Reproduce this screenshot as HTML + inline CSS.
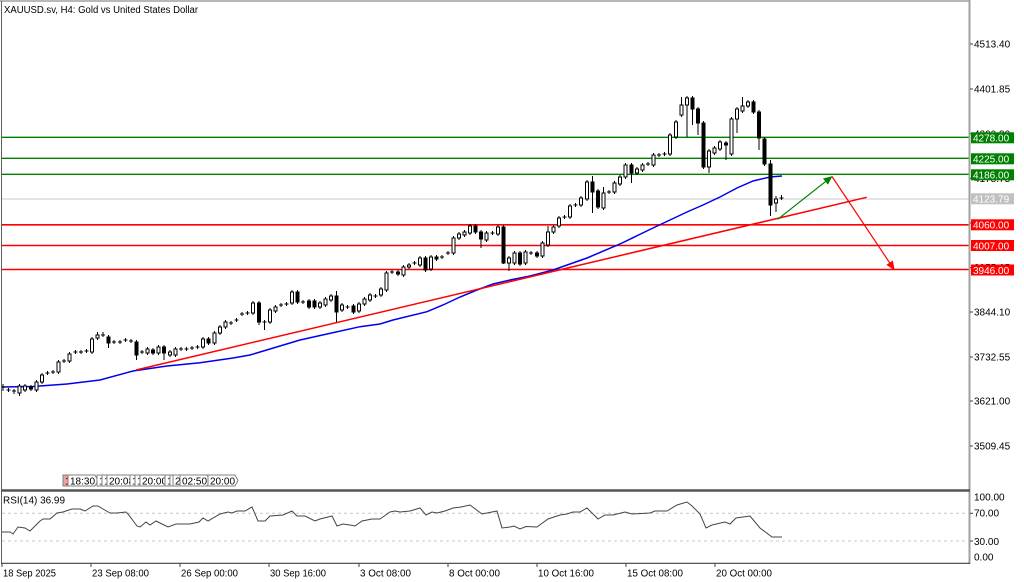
<!DOCTYPE html>
<html><head><meta charset="utf-8"><style>
html,body{margin:0;padding:0;background:#fff;}
svg{display:block;}
text{font-family:"Liberation Sans",sans-serif;font-size:10px;fill:#000;}
.w{fill:#fff;}
</style></head><body>
<svg id="c" width="1024" height="582" viewBox="0 0 1024 582" xmlns="http://www.w3.org/2000/svg">
<defs>
<marker id="ag" markerWidth="9" markerHeight="8" refX="8" refY="4" orient="auto" markerUnits="userSpaceOnUse"><path d="M0,0 L9,4 L0,8 z" fill="#008000"/></marker>
<marker id="ar" markerWidth="9" markerHeight="8" refX="8" refY="4" orient="auto" markerUnits="userSpaceOnUse"><path d="M0,0 L9,4 L0,8 z" fill="#ff0000"/></marker>
</defs>
<rect x="0" y="0" width="1024" height="582" fill="#fff"/>
<!-- title -->
<text x="4" y="13" textLength="194" lengthAdjust="spacingAndGlyphs">XAUUSD.sv, H4:  Gold vs United States Dollar</text>

<!-- horizontal levels -->
<line x1="2" y1="137.3" x2="969" y2="137.3" stroke="#008000" stroke-width="1.4"/>
<line x1="2" y1="158.3" x2="969" y2="158.3" stroke="#008000" stroke-width="1.4"/>
<line x1="2" y1="174.3" x2="969" y2="174.3" stroke="#008000" stroke-width="1.4"/>
<line x1="2" y1="199" x2="969" y2="199" stroke="#c8c8c8" stroke-width="1"/>
<line x1="2" y1="224.8" x2="969" y2="224.8" stroke="#ff0000" stroke-width="1.6"/>
<line x1="2" y1="245.5" x2="969" y2="245.5" stroke="#ff0000" stroke-width="1.6"/>
<line x1="2" y1="269.5" x2="969" y2="269.5" stroke="#ff0000" stroke-width="1.6"/>

<!-- MA -->
<polyline fill="none" stroke="#0000ee" stroke-width="1.5" points="2,387 33,386.5 67,384 100,380 133,371 167,366 200,362.7 233,358 250,355 270,349 300,340 327,334 360,326.7 380,324 393,320 427,311.7 443,305 460,297 477,290 493,284 510,280 530,276 553,270 587,258 620,244 653,228 670,220 687,212 703,205 720,197 737,188 753,181 770,177 782,176"/>
<!-- trend line -->
<line x1="136" y1="370" x2="866.7" y2="197.3" stroke="#ff0000" stroke-width="1.5"/>
<!-- arrows -->
<line x1="777.7" y1="219.3" x2="831.7" y2="176.7" stroke="#008000" stroke-width="1.2" marker-end="url(#ag)"/>
<line x1="832" y1="176.5" x2="894" y2="269.3" stroke="#ff0000" stroke-width="1.2" marker-end="url(#ar)"/>

<g id="candles"></g>

<!-- time labels boxes -->
<g id="tl" stroke="#808080" stroke-width="1"></g>

<!-- frame -->
<line x1="0" y1="1" x2="970" y2="1" stroke="#a0a0a0" stroke-width="1.5"/>
<line x1="969.5" y1="0" x2="969.5" y2="564" stroke="#a0a0a0" stroke-width="2"/>
<line x1="1.5" y1="1" x2="1.5" y2="564" stroke="#606060" stroke-width="1"/>
<line x1="1" y1="490.5" x2="970" y2="490.5" stroke="#555" stroke-width="2.5"/>
<line x1="1" y1="563.3" x2="970" y2="563.3" stroke="#404040" stroke-width="1.2"/>

<!-- RSI -->
<line x1="2" y1="513.3" x2="969" y2="513.3" stroke="#c8c8c8" stroke-width="1" stroke-dasharray="3,3"/>
<line x1="2" y1="541" x2="969" y2="541" stroke="#c8c8c8" stroke-width="1" stroke-dasharray="3,3"/>
<polyline fill="none" stroke="#444" stroke-width="1" points="2,532 10,532 13,534 18,527 25,528 30,531 40,521 43,519 50,519 57,513 63,512 72,509 80,509 85,511 93,506 98,506 103,509 110,513 117,513 126,512 128,514 137,526 140,527 146,522 150,525 156,521 162,524 168,527 176,524 190,524 199,522 203,518 208,521 220,514 228,512 232,513 237,511 245,511 252,507 258,521 265,521 270,516 283,515 292,511 297,516 305,516 315,521 320,519 332,516 337,526 343,524 350,525 355,526 362,521 372,519 380,519 390,512 395,511 400,512 410,511 420,508 426,515 432,512 437,513 445,511 453,508 461,507 470,505 482,514 487,513 497,511 502,528 510,527 514,526 520,529 526,526.5 537,527 548,519 560,515 567,514 573,512 580,512 587,508 598,519 605,515 613,515 625,512 632,514 650,513 655,511 667,511 677,505 687,502 692,506 700,514 706,528 712,525 725,522 730,524 736,518 750,516 760,528 772,537 782,537"/>
<text x="3" y="503.5" textLength="62" lengthAdjust="spacingAndGlyphs">RSI(14) 36.99</text>

<!-- right axis ticks -->
<g stroke="#404040" stroke-width="1">
<line x1="970" y1="44" x2="973" y2="44"/>
<line x1="970" y1="89" x2="973" y2="89"/>
<line x1="970" y1="133.7" x2="973" y2="133.7"/>
<line x1="970" y1="178.3" x2="973" y2="178.3"/>
<line x1="970" y1="223" x2="973" y2="223"/>
<line x1="970" y1="267.6" x2="973" y2="267.6"/>
<line x1="970" y1="312" x2="973" y2="312"/>
<line x1="970" y1="357" x2="973" y2="357"/>
<line x1="970" y1="401" x2="973" y2="401"/>
<line x1="970" y1="446" x2="973" y2="446"/>
<line x1="970" y1="513.3" x2="973" y2="513.3"/>
<line x1="970" y1="541" x2="973" y2="541"/>
</g>
<text x="974" y="47.6">4513.40</text>
<text x="974" y="92.6">4401.85</text>
<text x="974" y="137.3">4290.30</text>
<text x="974" y="181.9">4178.75</text>
<text x="974" y="226.6">4067.20</text>
<text x="974" y="271.2">3955.65</text>
<text x="974" y="315.6">3844.10</text>
<text x="974" y="360.6">3732.55</text>
<text x="974" y="404.6">3621.00</text>
<text x="974" y="449.6">3509.45</text>
<text x="974" y="500.7">100.00</text>
<text x="974" y="516.7">70.00</text>
<text x="974" y="545">30.00</text>
<text x="974" y="560.7">0.00</text>

<!-- price boxes -->
<rect x="971" y="132.3" width="43" height="11" fill="#008000"/>
<text class="w" x="973" y="141.6">4278.00</text>
<rect x="971" y="153.3" width="43" height="11" fill="#008000"/>
<text class="w" x="973" y="162.6">4225.00</text>
<rect x="971" y="169.3" width="43" height="11" fill="#008000"/>
<text class="w" x="973" y="178.6">4186.00</text>
<rect x="971" y="193.3" width="43" height="11" fill="#c0c0c0"/>
<text class="w" x="973" y="202.6">4123.79</text>
<rect x="971" y="219.3" width="43" height="11" fill="#ff0000"/>
<text class="w" x="973" y="228.6">4060.00</text>
<rect x="971" y="240" width="43" height="11" fill="#ff0000"/>
<text class="w" x="973" y="249.3">4007.00</text>
<rect x="971" y="264.5" width="43" height="11" fill="#ff0000"/>
<text class="w" x="973" y="273.8">3946.00</text>

<!-- date axis -->
<g stroke="#404040" stroke-width="1">
<line x1="2" y1="563" x2="2" y2="567"/>
<line x1="91" y1="563" x2="91" y2="567"/>
<line x1="180" y1="563" x2="180" y2="567"/>
<line x1="269" y1="563" x2="269" y2="567"/>
<line x1="359" y1="563" x2="359" y2="567"/>
<line x1="448" y1="563" x2="448" y2="567"/>
<line x1="537" y1="563" x2="537" y2="567"/>
<line x1="626" y1="563" x2="626" y2="567"/>
<line x1="715" y1="563" x2="715" y2="567"/>
</g>
<text x="3" y="576.5" textLength="53" lengthAdjust="spacingAndGlyphs">18 Sep 2025</text>
<text x="92" y="576.5" textLength="57" lengthAdjust="spacingAndGlyphs">23 Sep 08:00</text>
<text x="181" y="576.5" textLength="57" lengthAdjust="spacingAndGlyphs">26 Sep 00:00</text>
<text x="270" y="576.5" textLength="56" lengthAdjust="spacingAndGlyphs">30 Sep 16:00</text>
<text x="360" y="576.5" textLength="51" lengthAdjust="spacingAndGlyphs">3 Oct 08:00</text>
<text x="449" y="576.5" textLength="51" lengthAdjust="spacingAndGlyphs">8 Oct 00:00</text>
<text x="538" y="576.5" textLength="56" lengthAdjust="spacingAndGlyphs">10 Oct 16:00</text>
<text x="627" y="576.5" textLength="56" lengthAdjust="spacingAndGlyphs">15 Oct 08:00</text>
<text x="716" y="576.5" textLength="56" lengthAdjust="spacingAndGlyphs">20 Oct 00:00</text>
</svg>
<script>
(function(){
var NS="http://www.w3.org/2000/svg";
var D=[
[387,387,2,384,391],[390,390,2,388,392],[391,391,2,389,394],[386,393,0,384,396],[386,390,0],[387,389,1],[382,390,0],[375,382,0],[373,373,2],[372,372,2],
[362,372,0],[361,361,2],[354,361,0],[352,352,2],[352,352,2],[351,351,2],[339,352,0],[335,338,0,332],[335,335,2,332],[337,343,1,335,348],
[342,342,2],[342,342,2],[340,340,2],[341,341,2],[342,355,1,340,360],[352,352,2],[349,353,0],[350,353,1],[347,353,0],[347,353,1,345,360],
[352,355,0],[349,355,0],[349,349,2],[349,349,2],[348,348,2],[347,347,2],[339,347,0],[339,343,1],[333,343,0],[327,333,0],
[322,327,0],[323,323,2],[320,320,2],[314,314,2],[313,313,2],[303,313,0],[303,322,1,301,325],[322,322,2,320,330],[310,322,0],[307,311,0],
[305,305,2],[304,304,2],[292,303,0],[292,302,1],[302,302,2],[301,307,1],[301,307,1],[303,307,0],[299,305,0],[296,300,0],
[296,312,1,291,322],[305,310,0],[307,307,2],[306,312,1],[304,311,0],[299,304,0],[295,300,0],[296,296,2],[289,295,0],[273,290,0],
[272,272,2],[272,274,1],[267,275,0],[265,267,0],[263,263,2],[258,265,0],[258,270,1],[257,269,0],[257,259,1],[257,257,2],
[253,253,2],[238,253,0],[234,238,0],[232,235,0],[226,233,0],[226,232,1],[232,239,1,230,248],[233,240,0],[233,233,2],[227,234,0],
[227,263,1,225,264],[258,263,0,256,271],[253,263,0],[253,264,1],[252,263,0],[253,253,2],[253,256,1],[243,256,0],[232,245,0,226],[227,232,0],
[218,226,0],[217,217,2],[206,217,0],[205,205,2],[198,205,0],[182,199,0],[182,192,1,176,213],[191,207,1],[193,208,0,187],[192,192,2],
[183,192,0],[177,184,0],[165,177,0],[165,173,1,163,183],[169,173,0],[165,170,0],[164,164,2],[155,165,0],[155,155,2],[154,154,2],
[135,154,0],[122,137,0],[105,115,0,97],[98,105,0,96,137],[98,109,1,96,125],[109,123,1,107,135],[123,167,1],[151,167,0,149,173],[148,153,0],[142,149,0],
[143,145,1,141,160],[119,154,0],[109,119,0,107,133],[106,111,0,97],[102,106,0],[102,112,1],[112,138,1,110,150],[139,164,1],[164,205,1,160,216],[199,203,0,196,212],
[198,198,2,195,200]
];
var g=document.getElementById("candles");
function el(n,a){var e=document.createElementNS(NS,n);for(var k in a)e.setAttribute(k,a[k]);g.appendChild(e);return e;}
for(var i=0;i<D.length;i++){
 var d=D[i],x=Math.round((3+5.56*i)*2)/2,t=d[0],b=d[1],k=d[2];
 var h=d.length>3?d[3]:t-2,l=d.length>4?d[4]:b+2;
 el("line",{x1:x,y1:h,x2:x,y2:l,stroke:"#000","stroke-width":1});
 if(k==2){el("line",{x1:x-2,y1:t,x2:x+2,y2:t,stroke:"#000","stroke-width":1});}
 else{el("rect",{x:x-1.5,y:t,width:3,height:Math.max(1,b-t),fill:k==1?"#000":"#fff",stroke:"#000","stroke-width":1});}
}
var tl=document.getElementById("tl");
var B=[[63,"12:00",1],[68,"18:30"],[97,"12:00"],[102,"16:00"],[107,"20:08"],[130,"12:00"],[135,"12:00"],[140,"20:00"],[165,"16:00"],[170,"12:00"],[173,"20:00"],[180,"02:50"],[208,"20:00"]];
for(var j=0;j<B.length;j++){
 var s=B[j][0];
 var p=document.createElementNS(NS,"polygon");
 p.setAttribute("points",s+",475 "+(s+27)+",475 "+(s+30)+",480.5 "+(s+27)+",486 "+s+",486");
 p.setAttribute("fill",B[j][2]?"#f4a0a0":"#fff");
 tl.appendChild(p);
 var tx=document.createElementNS(NS,"text");
 tx.setAttribute("x",s+2);tx.setAttribute("y",484.5);tx.setAttribute("stroke","none");
 tx.textContent=B[j][1];
 tl.appendChild(tx);
}
})();
</script>
</body></html>
